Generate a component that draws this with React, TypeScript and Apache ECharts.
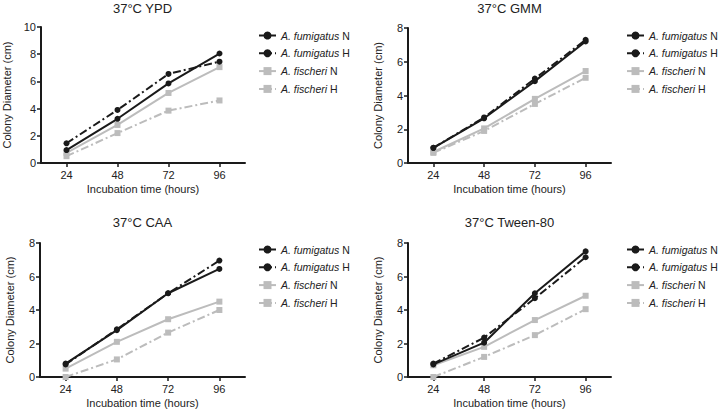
import React, { useEffect, useRef } from "react";
import * as echarts from "echarts";

const HOURS = [24, 48, 72, 96];
const SERIES_NAMES = ["A. fumigatus N", "A. fumigatus H", "A. fischeri N", "A. fischeri H"];
const TITLES = ["37°C YPD", "37°C GMM", "37°C CAA", "37°C Tween-80"];
const Y_MAX = [10, 8, 8, 8];

const YPD_FUM_N = [0.95, 3.25, 5.85, 8.05];
const YPD_FUM_H = [1.45, 3.9, 6.55, 7.45];
const YPD_FIS_N = [0.75, 2.8, 5.15, 7.05];
const YPD_FIS_H = [0.5, 2.2, 3.85, 4.6];

const GMM_FUM_N = [0.9, 2.65, 4.85, 7.2];
const GMM_FUM_H = [0.9, 2.7, 5.0, 7.3];
const GMM_FIS_N = [0.65, 2.05, 3.8, 5.45];
const GMM_FIS_H = [0.6, 1.9, 3.5, 5.05];

const CAA_FUM_N = [0.8, 2.8, 5.0, 6.45];
const CAA_FUM_H = [0.75, 2.85, 5.0, 6.95];
const CAA_FIS_N = [0.5, 2.1, 3.45, 4.5];
const CAA_FIS_H = [0.0, 1.05, 2.65, 4.0];

const TWEEN_FUM_N = [0.75, 2.05, 5.0, 7.5];
const TWEEN_FUM_H = [0.8, 2.35, 4.7, 7.15];
const TWEEN_FIS_N = [0.7, 1.8, 3.4, 4.85];
const TWEEN_FIS_H = [0.0, 1.2, 2.5, 4.05];

const PANELS = [
  [YPD_FUM_N, YPD_FUM_H, YPD_FIS_N, YPD_FIS_H],
  [GMM_FUM_N, GMM_FUM_H, GMM_FIS_N, GMM_FIS_H],
  [CAA_FUM_N, CAA_FUM_H, CAA_FIS_N, CAA_FIS_H],
  [TWEEN_FUM_N, TWEEN_FUM_H, TWEEN_FIS_N, TWEEN_FIS_H],
];

const BLACK = "#1a1a1a";
const GRAY = "#bcbcbc";
const TEXT = "#222";
const FONT = "Liberation Sans, Arial, Helvetica, sans-serif";

const GRID_POS = [
  { left: 40, top: 27, width: 205, height: 136 },
  { left: 408, top: 28, width: 203, height: 135 },
  { left: 40, top: 243, width: 205, height: 134 },
  { left: 408, top: 243, width: 203, height: 134 },
];

export default function App() {
  const ref = useRef<HTMLDivElement>(null);
  useEffect(() => {
    if (!ref.current) return;
    const chart = echarts.init(ref.current, undefined, { renderer: "svg" });
    const styles = [
      { color: BLACK, type: "solid", symbol: "circle" },
      { color: BLACK, type: [8, 3, 2, 3], symbol: "circle" },
      { color: GRAY, type: "solid", symbol: "rect" },
      { color: GRAY, type: [8, 3, 2, 3], symbol: "rect" },
    ];
    const grids = GRID_POS.map((g) => ({ ...g, containLabel: false }));
    const xAxes = GRID_POS.map((_, i) => ({
      type: "value",
      gridIndex: i,
      min: 12,
      max: 108,
      name: "Incubation time (hours)",
      nameLocation: "middle",
      nameGap: 20,
      nameTextStyle: { fontSize: 11, color: TEXT, fontFamily: FONT },
      axisLine: { show: true, onZero: false, lineStyle: { color: BLACK, width: 2 } },
      axisTick: { show: true, length: 4, customValues: HOURS, lineStyle: { color: BLACK, width: 1.5 } },
      axisLabel: { customValues: HOURS, margin: 6, fontSize: 11, color: TEXT, fontFamily: FONT },
      splitLine: { show: false },
    }));
    const yAxes = GRID_POS.map((_, i) => ({
      type: "value",
      gridIndex: i,
      min: 0,
      max: Y_MAX[i],
      interval: 2,
      name: "Colony Diameter (cm)",
      nameLocation: "middle",
      nameGap: i === 0 ? 29 : 25,
      nameTextStyle: { fontSize: 11, color: TEXT, fontFamily: FONT },
      axisLine: { show: true, onZero: false, lineStyle: { color: BLACK, width: 2 } },
      axisTick: { show: true, length: 4, lineStyle: { color: BLACK, width: 1.5 } },
      axisLabel: { margin: 5, fontSize: 11, color: TEXT, fontFamily: FONT },
      splitLine: { show: false },
    }));
    const series: any[] = [];
    PANELS.forEach((panel, pi) => {
      panel.forEach((vals, si) => {
        const st = styles[si];
        series.push({
          type: "line",
          name: SERIES_NAMES[si],
          xAxisIndex: pi,
          yAxisIndex: pi,
          data: HOURS.map((h, k) => [h, vals[k]]),
          symbol: st.symbol,
          symbolSize: 6,
          z: si < 2 ? 4 : 3,
          itemStyle: { color: st.color },
          lineStyle: { color: st.color, width: 2, type: st.type },
        });
      });
    });
    const titles = GRID_POS.map((g, i) => ({
      text: TITLES[i],
      left: g.left + g.width / 2,
      top: i < 2 ? 2 : 216,
      padding: 0,
      textAlign: "center",
      textStyle: { fontSize: 13, fontWeight: "normal", color: TEXT, fontFamily: FONT },
    }));
    const legends = GRID_POS.map((g, i) => ({
      data: SERIES_NAMES,
      orient: "vertical",
      left: i % 2 === 0 ? 258 : 626,
      top: i < 2 ? 30 : 244,
      width: 100,
      padding: 0,
      itemWidth: 17,
      itemHeight: 10,
      itemGap: 6.8,
      selectedMode: false,
      formatter: (name: string) => `{i|${name.slice(0, -2)}} ${name.slice(-1)}`,
      textStyle: {
        fontSize: 10.5,
        color: TEXT,
        fontFamily: FONT,
        rich: { i: { fontStyle: "italic", fontSize: 10.5, color: TEXT, fontFamily: FONT } },
      },
    }));
    chart.setOption({
      animation: false,
      backgroundColor: "#fff",
      title: titles,
      legend: legends,
      grid: grids,
      xAxis: xAxes,
      yAxis: yAxes,
      series,
    });
    return () => chart.dispose();
  }, []);
  return (
    <div
      ref={ref}
      style={{ position: "fixed", left: 0, top: 0, width: 720, height: 411 }}
    />
  );
}
